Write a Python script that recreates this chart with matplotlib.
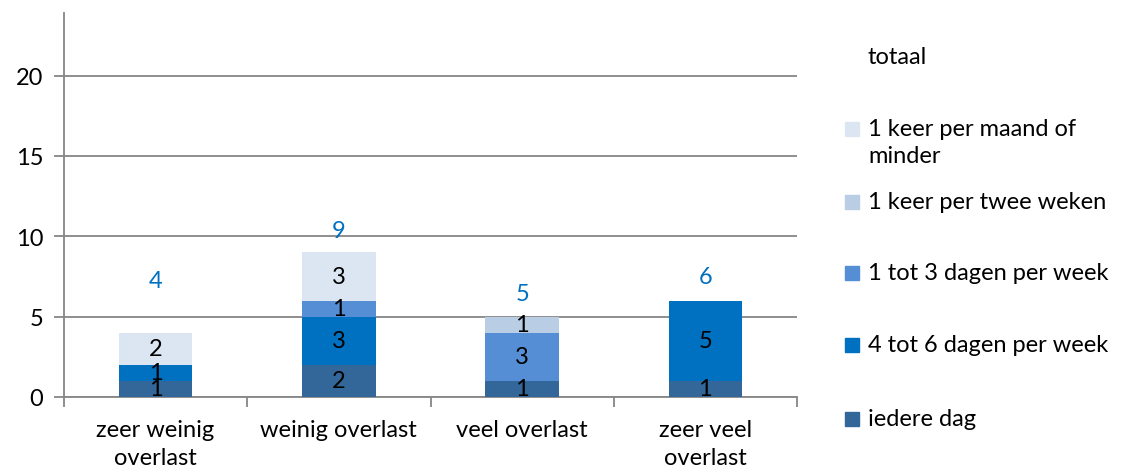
import numpy as np
import matplotlib.pyplot as plt
from matplotlib.patches import Rectangle

plt.rcParams["font.family"] = ["Lato", "DejaVu Sans"]

# Data
CATEGORIES = ["zeer weinig\noverlast", "weinig overlast", "veel overlast", "zeer veel\noverlast"]
iedere_dag = [1, 2, 1, 1]
dagen_4_6 = [1, 3, 0, 5]
dagen_1_3 = [0, 1, 3, 0]
twee_weken = [0, 0, 1, 0]
maand = [2, 3, 0, 0]
totaal = [4, 9, 5, 6]

SERIES = [
    ("iedere dag", iedere_dag, "#336699"),
    ("4 tot 6 dagen per week", dagen_4_6, "#0070c0"),
    ("1 tot 3 dagen per week", dagen_1_3, "#558ed5"),
    ("1 keer per twee weken", twee_weken, "#b9cde5"),
    ("1 keer per maand of\nminder", maand, "#dce6f2"),
]
TOTAL_OFFSET_PX = [52, 22, 23, 24]  # label lift above bar top
GRAY = "#868686"
FS = 17

fig = plt.figure(figsize=(11.23, 4.77), dpi=100)
ax = fig.add_axes([64 / 1123, 1 - 398 / 477, (797 - 64) / 1123, (398 - 14) / 477])

x = np.arange(len(CATEGORIES))
bottom = np.zeros(len(CATEGORIES))
for name, vals, color in SERIES:
    vals = np.array(vals, dtype=float)
    ax.bar(x, vals, width=0.4, bottom=bottom, color=color, zorder=3)
    for xi, b, v in zip(x, bottom, vals):
        if v > 0:
            ax.text(xi, b + v / 2, f"{int(v)}", ha="center", va="center",
                    fontsize=FS, color="black", zorder=4)
    bottom += vals

for xi, t, off in zip(x, totaal, TOTAL_OFFSET_PX):
    ax.annotate(f"{t}", (xi, t), xytext=(0, off * 0.72), textcoords="offset points",
                ha="center", va="center", fontsize=FS, color="#0070c0")

ax.set_xlim(-0.5, len(CATEGORIES) - 0.5)
ax.set_ylim(0, 23.9)
ax.set_yticks([0, 5, 10, 15, 20])
ax.yaxis.grid(True, color=GRAY, linewidth=1.3, zorder=0)
ax.set_axisbelow(True)
for side in ["top", "right"]:
    ax.spines[side].set_visible(False)
ax.spines["left"].set_color(GRAY)
ax.spines["left"].set_linewidth(1.3)
ax.spines["bottom"].set_color(GRAY)
ax.spines["bottom"].set_linewidth(1.3)

ax.tick_params(axis="y", colors=GRAY, labelcolor="black", labelsize=FS,
               length=7, width=1.3, pad=8)
ax.set_xticks(x)
ax.set_xticklabels(CATEGORIES, fontsize=FS, linespacing=1.4)
ax.tick_params(axis="x", length=0, pad=16)
ax.set_xticks(np.arange(len(CATEGORIES) + 1) - 0.5, minor=True)
ax.tick_params(axis="x", which="minor", length=7, width=1.3, color=GRAY)

# Legend, drawn by hand to follow Excel's spacing
legend_items = [("totaal", None)] + [(n, c) for n, _, c in reversed(SERIES)]
legend_y = [57, 143, 203, 274, 346, 420]
for (name, color), yp in zip(legend_items, legend_y):
    fy = 1 - yp / 477
    fig.text(868 / 1123, fy, name, ha="left", va="center", fontsize=FS,
             linespacing=1.3)
    if color is not None:
        sy = yp - 7 if "\n" not in name else yp - 20
        fig.patches.append(Rectangle((845 / 1123, 1 - (sy + 14) / 477), 14 / 1123, 14 / 477,
                                     transform=fig.transFigure, color=color))

fig.savefig("out.png", dpi=100)
